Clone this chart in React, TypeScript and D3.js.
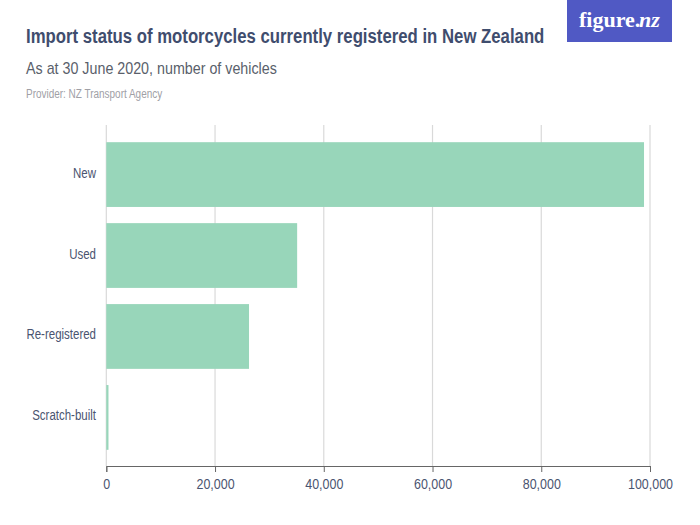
import React, { useEffect, useRef } from 'react';
import * as d3 from 'd3';

const categories = ['New', 'Used', 'Re-registered', 'Scratch-built'];
const values = [98900, 35100, 26250, 400];
const xTicks = [0, 20000, 40000, 60000, 80000, 100000];

const titleText = 'Import status of motorcycles currently registered in New Zealand';
const subtitleText = 'As at 30 June 2020, number of vehicles';
const providerText = 'Provider: NZ Transport Agency';

const width = 700;
const height = 525;
const sans = '"Liberation Sans", sans-serif';

// The original face is condensed, so squeeze each text to a share of its natural width
const condense = (sel: d3.Selection<any, any, any, any>, factor: number) => {
  sel.each(function () {
    const node = this as SVGTextElement;
    d3.select(node)
      .attr('textLength', node.getComputedTextLength() * factor)
      .attr('lengthAdjust', 'spacingAndGlyphs');
  });
};

const App: React.FC = () => {
  const svgRef = useRef<SVGSVGElement>(null);

  useEffect(() => {
    if (!svgRef.current) return;
    const svg = d3.select(svgRef.current);
    svg.selectAll('*').remove();

    const x = d3.scaleLinear().domain([0, 100000]).range([106.3, 650]);
    const y = d3.scaleBand<string>().domain(categories).range([126, 466]).padding(0.2);

    // Gridlines sit behind the bars
    svg.append('g')
      .selectAll('line')
      .data(xTicks)
      .enter()
      .append('line')
      .attr('x1', d => x(d))
      .attr('x2', d => x(d))
      .attr('y1', 125)
      .attr('y2', 466)
      .attr('stroke', '#d9d9d9')
      .attr('stroke-width', 1.2);

    svg.append('g')
      .selectAll('rect')
      .data(categories)
      .enter()
      .append('rect')
      .attr('x', x(0))
      .attr('y', d => y(d) as number)
      .attr('width', (_, i) => x(values[i]) - x(0))
      .attr('height', y.bandwidth())
      .attr('fill', '#98d6ba');

    // Category labels
    svg.append('g')
      .selectAll('text')
      .data(categories)
      .enter()
      .append('text')
      .attr('x', 96)
      .attr('y', d => (y(d) as number) + y.bandwidth() / 2 + 3)
      .attr('text-anchor', 'end')
      .attr('font-family', sans)
      .attr('font-size', 14)
      .attr('fill', '#4a5470')
      .text(d => d)
      .call(condense, 0.82);

    // Bottom axis
    const axis = svg.append('g')
      .attr('transform', 'translate(0,466)')
      .call(d3.axisBottom(x).tickValues(xTicks).tickFormat(d3.format(',')).tickSize(6).tickPadding(6));
    axis.select('.domain').attr('stroke', '#666').attr('stroke-width', 1);
    axis.selectAll('.tick line').attr('stroke', '#666');
    axis.selectAll('.tick text')
      .attr('font-family', sans)
      .attr('font-size', 15)
      .attr('fill', '#4a5470')
      .call(condense, 0.83);

    // Header. The title is scaled rather than condensed so its box stays clear of the logo
    svg.append('text')
      .attr('transform', 'translate(26,43) scale(0.798,1)')
      .attr('font-family', sans)
      .attr('font-weight', 'bold')
      .attr('font-size', 21)
      .attr('fill', '#3f4d6e')
      .text(titleText);
    svg.append('text')
      .attr('x', 26).attr('y', 74)
      .attr('font-family', sans)
      .attr('font-size', 17)
      .attr('fill', '#5a5f6b')
      .text(subtitleText)
      .call(condense, 0.84);
    svg.append('text')
      .attr('x', 26).attr('y', 98)
      .attr('font-family', sans)
      .attr('font-size', 12)
      .attr('fill', '#a0a0a6')
      .text(providerText)
      .call(condense, 0.83);

    // Logo
    svg.append('rect')
      .attr('x', 567).attr('y', 0)
      .attr('width', 105).attr('height', 42)
      .attr('fill', '#5059c4');
    svg.append('text')
      .attr('x', 579).attr('y', 27)
      .attr('font-family', '"Liberation Serif", serif')
      .attr('font-weight', 'bold')
      .attr('font-size', 22)
      .attr('fill', '#ffffff')
      .text('figure.');
    svg.append('text')
      .attr('x', 639).attr('y', 27)
      .attr('font-family', '"Liberation Serif", serif')
      .attr('font-style', 'italic')
      .attr('font-weight', 'bold')
      .attr('font-size', 22)
      .attr('fill', '#ffffff')
      .text('nz');
  }, []);

  return (
    <svg
      ref={svgRef}
      width={width}
      height={height}
      style={{ position: 'absolute', left: 0, top: 0, background: '#fff' }}
    />
  );
};

export default App;
